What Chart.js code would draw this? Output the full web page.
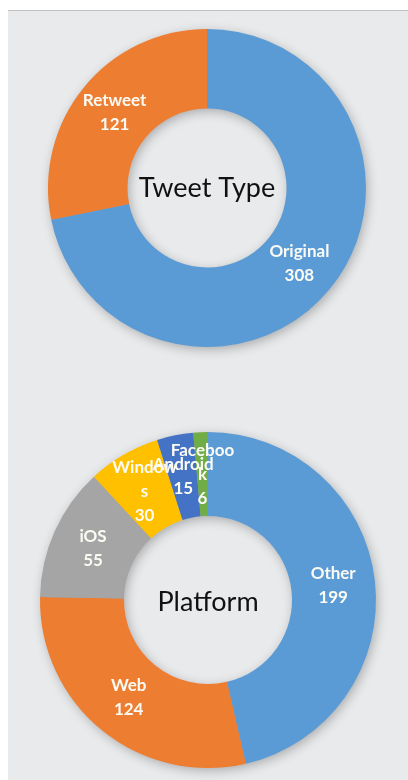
<!DOCTYPE html>
<html>
<head>
<meta charset="utf-8">
<script src="https://cdn.jsdelivr.net/npm/chart.js@4.4.1/dist/chart.umd.min.js"></script>
<style>
  html, body { margin: 0; padding: 0; width: 408px; height: 780px; overflow: hidden; background: #ffffff; }
  #panel { position: absolute; left: 8px; top: 10px; right: 0; bottom: 0; background: #e9eaec; border-top: 1px solid #bdbec0; }
  canvas { position: absolute; }
</style>
</head>
<body>
<div id="panel"></div>
<canvas id="tweetType" width="358" height="358" style="left:28px;top:9px"></canvas>
<canvas id="platform" width="376" height="376" style="left:20px;top:412px"></canvas>
<script>
// Tweet type split
const tweetTypeLabels = ['Original', 'Retweet'];
const tweetTypeValues = [308, 121];
const tweetTypeColors = ['#5b9bd5', '#ed7d31'];

// Posting platform split
const platformLabels = ['Other', 'Web', 'iOS', 'Windows', 'Android', 'Facebook'];
const platformValues = [199, 124, 55, 30, 15, 6];
const platformColors = ['#5b9bd5', '#ed7d31', '#a5a5a5', '#ffc000', '#4472c4', '#70ad47'];

const LABEL_FONT = 'bold 17px Lato';
const LABEL_LINE = 24;
const LABEL_WRAP = 66;

// Soft drop shadow under the whole ring, drawn once so slices don't shade each other
const ringShadow = {
  id: 'ringShadow',
  beforeDatasetsDraw(chart) {
    const arc = chart.getDatasetMeta(0).data[0];
    if (!arc) return;
    const { x, y, innerRadius, outerRadius } = arc.getProps(['x', 'y', 'innerRadius', 'outerRadius'], true);
    const ctx = chart.ctx;
    ctx.save();
    ctx.shadowColor = 'rgba(0,0,0,0.30)';
    ctx.shadowBlur = 12;
    ctx.shadowOffsetX = 2;
    ctx.shadowOffsetY = 3;
    ctx.fillStyle = '#9aa3ad';
    ctx.beginPath();
    ctx.arc(x, y, outerRadius - 1, 0, Math.PI * 2);
    ctx.arc(x, y, innerRadius + 1, 0, Math.PI * 2, true);
    ctx.fill();
    ctx.restore();
  }
};

// Break a word into pieces that fit the label width
function wrapWord(ctx, word, maxWidth) {
  const lines = [];
  let cur = '';
  for (const ch of word) {
    if (cur && ctx.measureText(cur + ch).width > maxWidth) {
      lines.push(cur);
      cur = ch;
    } else {
      cur += ch;
    }
  }
  if (cur) lines.push(cur);
  return lines;
}

// Category name and value written inside each slice
const sliceLabels = {
  id: 'sliceLabels',
  afterDatasetsDraw(chart) {
    const ctx = chart.ctx;
    const ds = chart.data.datasets[0];
    const meta = chart.getDatasetMeta(0);
    ctx.save();
    ctx.font = LABEL_FONT;
    ctx.fillStyle = '#fbfbf4';
    ctx.textAlign = 'center';
    ctx.textBaseline = 'middle';
    meta.data.forEach((arc, i) => {
      const p = arc.getCenterPoint();
      const lines = wrapWord(ctx, chart.data.labels[i], LABEL_WRAP).concat([String(ds.data[i])]);
      const top = p.y - (lines.length - 1) * LABEL_LINE / 2;
      lines.forEach((t, k) => ctx.fillText(t, p.x, top + k * LABEL_LINE));
    });
    ctx.restore();
  }
};

// Title written in the hole of the doughnut
const centerText = {
  id: 'centerText',
  afterDraw(chart, args, opts) {
    const arc = chart.getDatasetMeta(0).data[0];
    if (!arc) return;
    const ctx = chart.ctx;
    ctx.save();
    ctx.font = '27px Lato';
    ctx.fillStyle = '#111111';
    ctx.textAlign = 'center';
    ctx.textBaseline = 'middle';
    ctx.fillText(opts.text, arc.x, arc.y + (opts.dy || 0));
    ctx.restore();
  }
};

function doughnut(id, labels, values, colors, title, dy) {
  return new Chart(document.getElementById(id), {
    type: 'doughnut',
    data: {
      labels: labels,
      datasets: [{ data: values, backgroundColor: colors, borderWidth: 0 }]
    },
    options: {
      responsive: false,
      devicePixelRatio: 1,
      animation: false,
      cutout: '50%',
      layout: { padding: 20 },
      plugins: {
        legend: { display: false },
        tooltip: { enabled: false },
        centerText: { text: title, dy: dy }
      }
    },
    plugins: [ringShadow, sliceLabels, centerText]
  });
}

doughnut('tweetType', tweetTypeLabels, tweetTypeValues, tweetTypeColors, 'Tweet Type', 0);
doughnut('platform', platformLabels, platformValues, platformColors, 'Platform', 2);
</script>
</body>
</html>
